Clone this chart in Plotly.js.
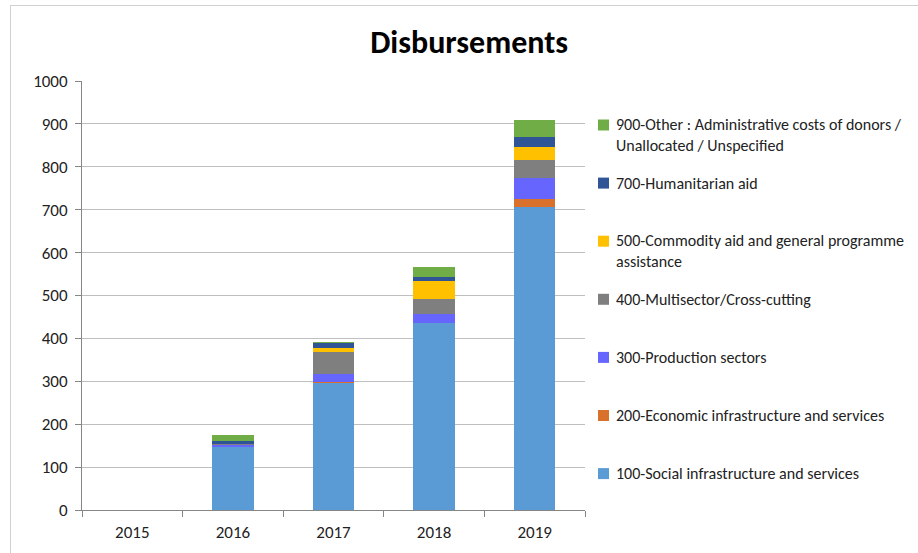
<!DOCTYPE html>
<html>
<head>
<meta charset="utf-8">
<script src="https://cdn.plot.ly/plotly-3.0.1.min.js"></script>
<style>
  html, body { margin:0; padding:0; background:#ffffff; width:918px; height:553px; overflow:hidden; }
  #frame { position:absolute; left:10px; top:5px; width:1000px; height:600px; border-left:1px solid #d0d0d0; border-top:1px solid #d0d0d0; pointer-events:none; z-index:2; }
  #chart { position:absolute; left:0; top:0; width:918px; height:553px; z-index:1; }
</style>
</head>
<body>
<div id="frame"></div>
<div id="chart"></div>
<script>
const years = ["2015", "2016", "2017", "2018", "2019"];

const social100     = [0, 147, 295, 436, 706];
const economic200   = [0, 1, 3, 0, 19];
const production300 = [0, 3, 20, 20, 49];
const multi400      = [0, 2, 50, 36, 42];
const commodity500  = [0, 0, 9, 42, 30];
const humanit700    = [0, 9, 12, 9, 23];
const other900      = [0, 14, 2, 23, 40];

const seriesNames = [
  "100-Social infrastructure and services",
  "200-Economic infrastructure and services",
  "300-Production sectors",
  "400-Multisector/Cross-cutting",
  "500-Commodity aid and general programme<br>assistance",
  "700-Humanitarian aid",
  "900-Other : Administrative costs of donors /<br>Unallocated / Unspecified"
];
const seriesColors = ["#5b9bd5", "#d9702b", "#6666ff", "#7f7f7f", "#ffc000", "#2f5597", "#70ad47"];
const seriesValues = [social100, economic200, production300, multi400, commodity500, humanit700, other900];

const traces = seriesValues.map((vals, i) => ({
  type: "bar",
  x: years,
  y: vals,
  name: seriesNames[i].replace("<br>", " "),
  marker: { color: seriesColors[i], line: { width: 0 } },
  showlegend: false,
  hoverinfo: "x+y+name"
}));

// Plot area geometry (pixels) used to place the hand-drawn legend
const M = { l: 82, r: 333, t: 81, b: 43 };
const W = 918, H = 553;
const pw = W - M.l - M.r, ph = H - M.t - M.b;
const px2x = px => (px - M.l) / pw;
const py2y = py => (H - M.b - py) / ph;

// Legend: top entry (900) first, evenly spaced
const legendTop = 125, legendStep = 58.1;
const annotations = [];
const shapes = [];
for (let k = 0; k < seriesNames.length; k++) {
  const i = seriesNames.length - 1 - k;
  const cy = legendTop + k * legendStep;
  shapes.push({
    type: "rect", xref: "paper", yref: "paper",
    x0: px2x(598), x1: px2x(609), y0: py2y(cy + 5.5), y1: py2y(cy - 5.5),
    fillcolor: seriesColors[i], line: { width: 0 }
  });
  const twoLine = seriesNames[i].indexOf("<br>") >= 0;
  annotations.push({
    xref: "paper", yref: "paper",
    x: px2x(614), xanchor: "left",
    y: py2y(twoLine ? cy + 10 : cy), yanchor: "middle",
    text: seriesNames[i], align: "left", showarrow: false,
    font: { size: 16, color: "#222222" }
  });
}

const layout = {
  width: W,
  height: H,
  barmode: "stack",
  bargap: 0.59,
  paper_bgcolor: "rgba(0,0,0,0)",
  plot_bgcolor: "#ffffff",
  margin: { l: M.l, r: M.r, t: M.t, b: M.b, pad: 0 },
  font: { family: "Carlito, 'Liberation Sans Narrow', 'Noto Sans', sans-serif", size: 13, color: "#222222" },
  title: {
    text: "<b>Disbursements</b>",
    font: { family: "Carlito, 'Noto Sans', 'Liberation Sans', sans-serif", size: 32, color: "#000000" },
    x: 0.511, xanchor: "center",
    y: 0.925, yanchor: "middle"
  },
  xaxis: {
    type: "category",
    showgrid: false,
    showline: true,
    linecolor: "#868686",
    linewidth: 1,
    ticks: "outside",
    tickson: "boundaries",
    ticklen: 6,
    tickcolor: "#868686",
    ticklabelstandoff: 7,
    tickfont: { size: 17, color: "#222222" },
    zeroline: false
  },
  yaxis: {
    range: [0, 1000],
    dtick: 100,
    showgrid: true,
    gridcolor: "#bfbfbf",
    gridwidth: 1,
    showline: true,
    linecolor: "#868686",
    ticks: "outside",
    ticklen: 6,
    tickcolor: "#868686",
    ticklabelstandoff: 4,
    tickfont: { size: 17, color: "#222222" },
    zeroline: false,
    fixedrange: true
  },
  showlegend: false,
  shapes: shapes,
  annotations: annotations
};

Plotly.newPlot("chart", traces, layout, { displayModeBar: false, staticPlot: true });
</script>
</body>
</html>
